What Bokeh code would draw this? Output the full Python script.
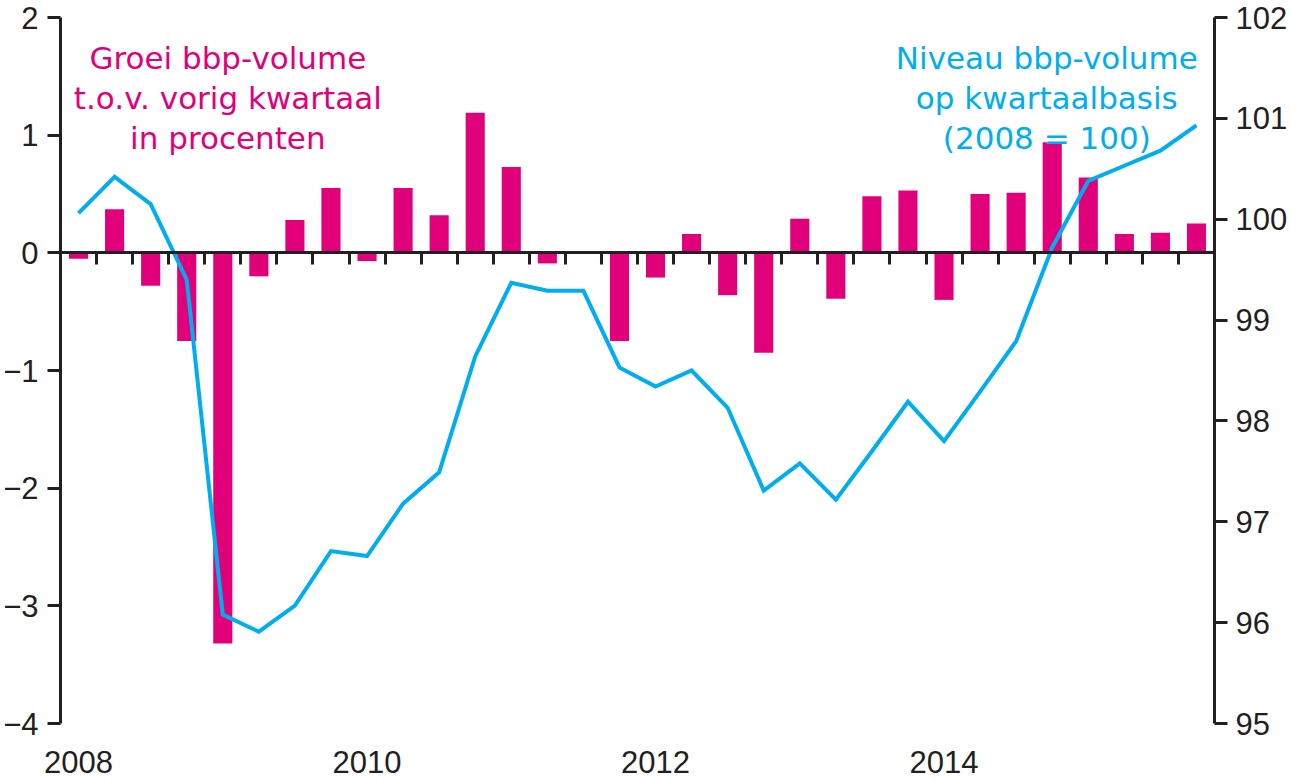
from bokeh.plotting import figure
from bokeh.models import (Range1d, LinearAxis, FixedTicker, Label, ColumnDataSource)
from bokeh.embed import file_html
from bokeh.resources import INLINE

# ---- data ----
quarters = ["2008K1", "2008K2", "2008K3", "2008K4", "2009K1", "2009K2", "2009K3", "2009K4",
            "2010K1", "2010K2", "2010K3", "2010K4", "2011K1", "2011K2", "2011K3", "2011K4",
            "2012K1", "2012K2", "2012K3", "2012K4", "2013K1", "2013K2", "2013K3", "2013K4",
            "2014K1", "2014K2", "2014K3", "2014K4", "2015K1", "2015K2", "2015K3", "2015K4"]
growth = [-0.05, 0.37, -0.28, -0.75, -3.32, -0.20, 0.28, 0.55,
          -0.07, 0.55, 0.32, 1.19, 0.73, -0.09, 0.00, -0.75,
          -0.21, 0.16, -0.36, -0.85, 0.29, -0.39, 0.48, 0.53,
          -0.40, 0.50, 0.51, 0.94, 0.64, 0.16, 0.17, 0.25]
level = [100.06, 100.42, 100.15, 99.40, 96.08, 95.91, 96.17, 96.71,
         96.66, 97.18, 97.49, 98.64, 99.37, 99.29, 99.29, 98.53,
         98.34, 98.50, 98.13, 97.31, 97.58, 97.22, 97.70, 98.19,
         97.80, 98.29, 98.79, 99.72, 100.38, 100.53, 100.68, 100.93]
year_labels = ["2008", "2010", "2012", "2014"]
left_ticks = [-4, -3, -2, -1, 0, 1, 2]
right_ticks = [95, 96, 97, 98, 99, 100, 101, 102]
left_title = ["Groei bbp-volume", "t.o.v. vorig kwartaal", "in procenten"]
right_title = ["Niveau bbp-volume", "op kwartaalbasis", "(2008 = 100)"]

MAGENTA = "#E2007A"
BLUE = "#00AEEF"
DARK = "#231F20"
TICKFONT = "Liberation Sans"
TXTFONT = "DejaVu Sans"

xpos = list(range(len(quarters)))
src = ColumnDataSource(dict(x=xpos, q=quarters, g=growth, lv=level))

p = figure(width=1290, height=780, output_backend="svg", toolbar_location=None,
           x_range=Range1d(-0.5, len(quarters) - 0.5), y_range=Range1d(-4, 2),
           min_border_left=58, min_border_right=74, min_border_top=17, min_border_bottom=57,
           x_axis_location=None, y_axis_location=None)
p.extra_y_ranges = {"lvl": Range1d(95, 102)}
p.outline_line_color = None
p.xgrid.visible = False
p.ygrid.visible = False
p.background_fill_color = "white"
p.border_fill_color = "white"

# bars
p.vbar(x="x", top="g", bottom=0, width=0.53, source=src, fill_color=MAGENTA, line_color=None)
# line
p.line(x="x", y="lv", source=src, y_range_name="lvl", line_color=BLUE, line_width=4,
       line_join="miter")

# left axis
ly = LinearAxis(ticker=FixedTicker(ticks=left_ticks),
                major_label_overrides={t: (str(t) if t >= 0 else "\u2212" + str(-t)) for t in left_ticks})
# right axis
ry = LinearAxis(y_range_name="lvl", ticker=FixedTicker(ticks=right_ticks))
for ax, so in ((ly, 9), (ry, 8)):
    ax.axis_line_color = DARK
    ax.axis_line_width = 3
    ax.major_tick_line_color = DARK
    ax.major_tick_line_width = 3
    ax.major_tick_out = 13
    ax.major_tick_in = 0
    ax.minor_tick_line_color = None
    ax.major_label_text_font = TICKFONT
    ax.major_label_text_font_size = "31px"
    ax.major_label_text_color = DARK
    ax.major_label_standoff = so
p.add_layout(ly, "left")
p.add_layout(ry, "right")

# zero axis with quarter boundary ticks
zx = LinearAxis(ticker=FixedTicker(ticks=[i + 0.5 for i in xpos[:-1]]), fixed_location=0)
zx.axis_line_color = DARK
zx.axis_line_width = 3
zx.major_tick_line_color = DARK
zx.major_tick_line_width = 3
zx.major_tick_out = 12
zx.major_tick_in = 0
zx.minor_tick_line_color = None
zx.major_label_text_font_size = "0px"
zx.major_label_text_color = None
p.add_layout(zx, "below")

# year labels axis at bottom
year_pos = [quarters.index(y + "K1") for y in year_labels]
bx = LinearAxis(ticker=FixedTicker(ticks=year_pos),
                major_label_overrides={pos: lab for pos, lab in zip(year_pos, year_labels)})
bx.axis_line_color = None
bx.major_tick_line_color = None
bx.minor_tick_line_color = None
bx.major_tick_out = 0
bx.major_tick_in = 0
bx.major_label_text_font = TICKFONT
bx.major_label_text_font_size = "31px"
bx.major_label_text_color = DARK
bx.major_label_standoff = 27
p.add_layout(bx, "below")

# annotations
baselines = [1.655, 1.316, 0.976]
for txt, yb in zip(left_title, baselines):
    p.add_layout(Label(x=4.14, y=yb, text=txt, text_align="center", text_baseline="alphabetic",
                       text_font=TXTFONT, text_font_size="31px", text_color=MAGENTA))
for txt, yb in zip(right_title, baselines):
    p.add_layout(Label(x=26.85, y=yb, text=txt, text_align="center", text_baseline="alphabetic",
                       text_font=TXTFONT, text_font_size="31px", text_color=BLUE))

open("out.html", "w").write(file_html(p, INLINE))
